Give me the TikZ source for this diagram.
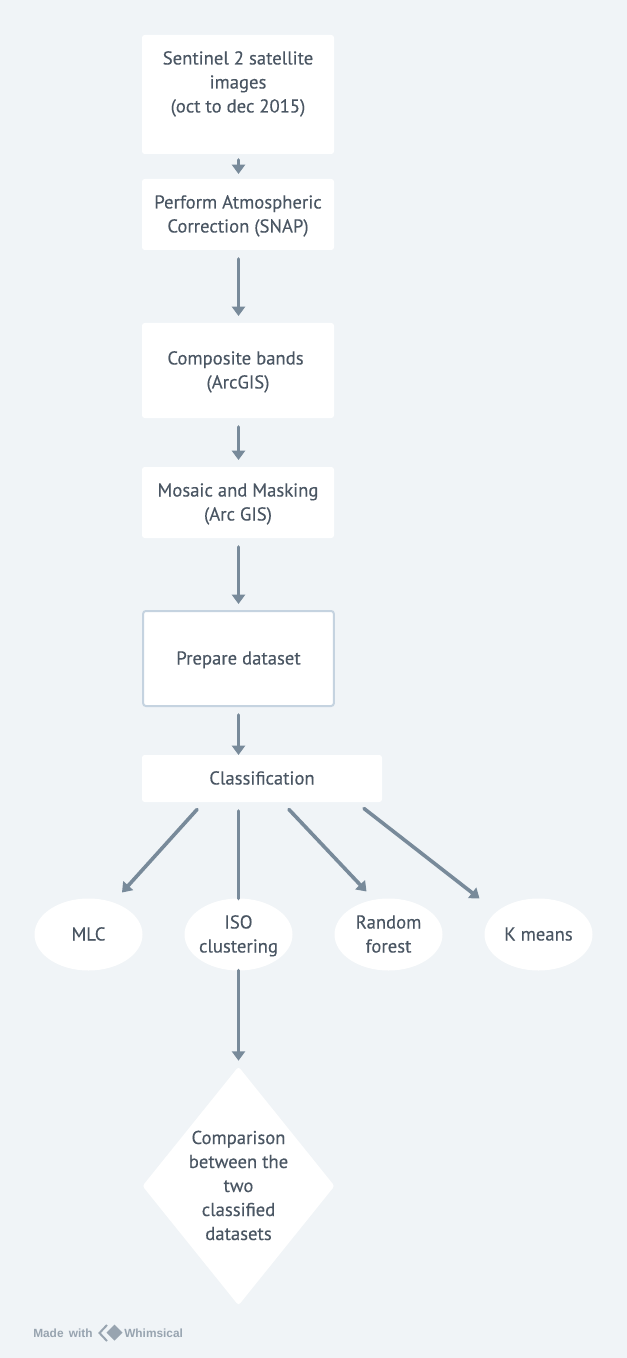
\documentclass[tikz,border=0pt]{standalone}
\usepackage{fontspec}
\setmainfont[FakeBold=0.2]{PT Sans}
\newfontfamily\logofont{Liberation Sans}
\usetikzlibrary{
    arrows.meta,
    shapes.geometric,
    calc
}
\definecolor{pagebg}{HTML}{F0F4F7}
\definecolor{flowline}{HTML}{788A9A}
\definecolor{flowtext}{HTML}{4A5663}
\definecolor{flowborder}{HTML}{C5D3E0}
\definecolor{logogrey}{HTML}{98A4B0}
\newcommand{\flowstrut}{\rule[-5.1pt]{0pt}{19.2pt}}
\tikzset{
    flowbox/.style={rectangle, rounded corners=2pt, fill=white, text=flowtext, inner sep=0pt, outer sep=0pt, align=center,
        font=\fontsize{14pt}{18pt}\selectfont,
        execute at begin node=\flowstrut, execute at end node=\flowstrut},
    flowoval/.style={flowbox, ellipse, minimum width=81pt, minimum height=54pt, inner sep=-6pt},
    flowgate/.style={flowbox, diamond, aspect=0.8, inner sep=-4pt, minimum width=144pt, minimum height=179pt},
    flow/.style={draw=flowline, line width=2.7pt, line cap=round, -{Triangle[width=9.75pt,length=7pt]}},
    flowplain/.style={draw=flowline, line width=2.7pt, line cap=round}
}
\begin{document}
\begin{tikzpicture}[x=0.75pt, y=-0.75pt]
    \fill[pagebg] (0, 0) rectangle (627, 1358);
    \useasboundingbox (0, 0) rectangle (627, 1358);
    % boxes
    \node[flowbox, minimum width=144pt, minimum height=89.25pt] (sentinel) at (238, 94.5) {\flowstrut Sentinel 2 satellite~\\images~\\(oct to dec 2015)\\~};
    \node[flowbox, minimum width=144pt, minimum height=53.25pt] (correction) at (238, 214.5) {\flowstrut Perform Atmospheric\\Correction (SNAP)};
    \node[flowbox, minimum width=144pt, minimum height=71.25pt] (composite) at (238, 370.5) {\flowstrut Composite bands~~\\(ArcGIS)};
    \node[flowbox, minimum width=144pt, minimum height=53.25pt] (mosaic) at (238, 502.5) {\flowstrut Mosaic and Masking~\\(Arc GIS)};
    \node[flowbox, draw=flowborder, line width=1.5pt, minimum width=143pt, minimum height=71.25pt] (dataset) at (238.5, 658.5) {Prepare dataset};
    \node[flowbox, minimum width=180pt, minimum height=35.25pt] (classification) at (262, 778.5) {Classification};
    % classifiers
    \node[flowoval] (mlc) at (88.5, 934.5) {MLC};
    \node[flowoval] (iso) at (238.5, 934.5) {\flowstrut ISO~\\clustering};
    \node[flowoval] (forest) at (388.5, 934.5) {\flowstrut Random~\\forest};
    \node[flowoval] (kmeans) at (538.5, 934.5) {K means};
    \node[flowgate] (compare) at (238.5, 1186) {\flowstrut Comparison\\between the\\two\\classified\\datasets};
    % connectors
    \draw[flow] ($(sentinel.south)+(0.5, 6)$) -- ($(correction.north)+(0.5, -5)$);
    \draw[flow] ($(correction.south)+(0.5, 9)$) -- ($(composite.north)+(0.5, -7)$);
    \draw[flow] ($(composite.south)+(0.5, 9)$) -- ($(mosaic.north)+(0.5, -7)$);
    \draw[flow] ($(mosaic.south)+(0.5, 9)$) -- ($(dataset.north)+(0, -7)$);
    \draw[flow] ($(dataset.south)+(0, 9)$) -- ($(classification.north west)+(96.5, 0)$);
    \draw[flow] ($(classification.south west)+(55, 7.5)$) -- ($(mlc.north)+(33.5, -6)$);
    \draw[flowplain] ($(classification.south west)+(96.5, 9)$) -- (iso.north);
    \draw[flow] ($(classification.south west)+(147, 7.5)$) -- ($(forest.north)+(-22, -7)$);
    \draw[flow] ($(classification.south west)+(222, 6.5)$) -- ($(kmeans.north)+(-59, 0)$);
    \draw[flow] (iso.south) -- ($(compare.north)+(0, -6)$);
    % logo
    \node[text=logogrey, font=\logofont\bfseries\fontsize{8.9pt}{10pt}\selectfont, inner sep=0pt, anchor=west] (made) at (33, 1333) {Made\hspace{4pt}with};
    \node[text=logogrey, font=\logofont\bfseries\fontsize{8.9pt}{10pt}\selectfont, inner sep=0pt, anchor=west] (whimsical) at (124, 1333) {Whimsical};
    \fill[logogrey] (114.5, 1324.5) -- (122.5, 1332.5) -- (114.5, 1340.5) -- (106.5, 1332.5) -- cycle;
    \draw[logogrey, line width=1.5pt] (107, 1325) -- (99.5, 1333) -- (107, 1341);
\end{tikzpicture}
\end{document}
